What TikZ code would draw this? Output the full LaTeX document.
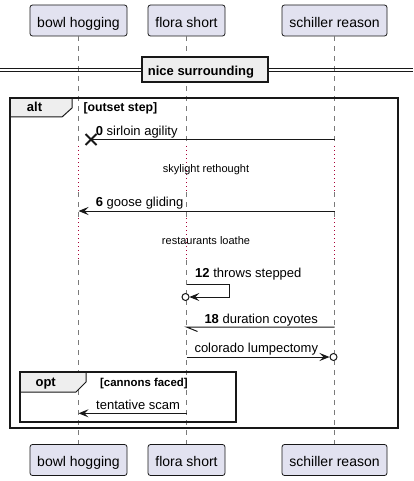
\documentclass[tikz,border=0pt]{standalone}
\usepackage{fontspec}
\setmainfont{Liberation Sans}
\usetikzlibrary{arrows.meta}
\definecolor{partfill}{HTML}{E2E2F0}
\definecolor{ink}{HTML}{181818}
\definecolor{tabfill}{HTML}{EEEEEE}
\definecolor{delayred}{HTML}{A80036}
\definecolor{lifegray}{HTML}{7A7A7A}
\begin{document}
\begin{tikzpicture}[x=1pt,y=-1pt,
  part/.style={draw=ink, line width=0.8pt, fill=partfill, rounded corners=2.5pt,
    minimum height=31pt, inner sep=0pt, text height=13.5pt, text depth=0pt,
    font=\fontsize{14}{16}\selectfont},
  lifeline/.style={draw=lifegray, line width=0.8pt, dash pattern=on 5pt off 5pt},
  delayline/.style={draw=delayred, line width=0.9pt, dash pattern=on 1pt off 3pt},
  msg/.style={draw=ink, line width=1pt},
  tip/.style={-{Stealth[length=10pt,width=8pt,inset=4pt]}},
  msgtext/.style={anchor=base west, inner sep=0pt, font=\fontsize{13}{15}\selectfont},
  notetext/.style={anchor=base, inner sep=0pt, font=\fontsize{11}{13}\selectfont},
  frame/.style={draw=ink, line width=1.6pt},
  tab/.style={draw=ink, line width=1pt, fill=tabfill},
  ftitle/.style={anchor=base, inner sep=0pt, font=\bfseries\fontsize{13}{15}\selectfont},
  guard/.style={anchor=base west, inner sep=0pt, font=\bfseries\fontsize{11.4}{13}\selectfont},
]
\useasboundingbox (0,0) rectangle (413,481);
\fill[white] (0,0) rectangle (413,481);

% participants
\node[part, minimum width=97pt]  (tb) at (78.5,20.5)  {bowl hogging};
\node[part, minimum width=77pt]  (tf) at (186.5,20.5) {flora short};
\node[part, minimum width=105pt] (ts) at (334.5,20.5) {schiller reason};
\node[part, minimum width=97pt]  (bb) at (78.5,460)   {bowl hogging};
\node[part, minimum width=77pt]  (bf) at (186.5,460)  {flora short};
\node[part, minimum width=105pt] (bs) at (334.5,460)  {schiller reason};

% lifelines with delays
\foreach \n in {b,f,s} {
  \draw[lifeline]  (t\n.south) -- (t\n.south |- 0,146);
  \draw[delayline] (t\n.south |- 0,146) -- (t\n.south |- 0,192);
  \draw[lifeline]  (t\n.south |- 0,192) -- (t\n.south |- 0,218);
  \draw[delayline] (t\n.south |- 0,218) -- (t\n.south |- 0,260);
  \draw[lifeline]  (t\n.south |- 0,260) -- (b\n.north);
}

% divider
\draw[ink, line width=1pt] (0,69) -- (413,69);
\draw[ink, line width=1pt] (0,72) -- (413,72);
\node[draw=ink, line width=1.6pt, fill=tabfill, minimum width=126pt, minimum height=25pt, inner sep=0pt] (div) at (205,69.5) {};
\node[ftitle, anchor=base west] (divlabel) at (147.7,75.5) {nice surrounding};

% alt frame
\draw[tab] (10,98) -- (72,98) -- (72,108) -- (62,117) -- (10,117) -- cycle;
\draw[frame] (10,98) rectangle (398,428);
\node[ftitle] (altlabel) at (34.5,111.5) {alt};
\node[guard, font=\bfseries\fontsize{12.3}{14}\selectfont] (altguard) at (83.3,111.5) {[outset step]};

% message 0: destroy
\coordinate (m0s) at (ts.south |- 0,139.5);
\coordinate (m0x) at (91,139.5);
\draw[msg] (m0s) -- (m0x);
\draw[ink, line width=1.8pt] ([shift={(-5.5,-5.5)}]m0x) -- ([shift={(5.5,5.5)}]m0x);
\draw[ink, line width=1.8pt] ([shift={(-5.5,5.5)}]m0x) -- ([shift={(5.5,-5.5)}]m0x);
\node[msgtext] (t0) at (95.7,135.7) {\textbf{0} sirloin agility};

\node[notetext] (d1) at (206,172.3) {skylight rethought};

% message 6
\coordinate (m6s) at (ts.south |- 0,211);
\coordinate (m6t) at (tb.south |- 0,211);
\draw[msg, tip] (m6s) -- (m6t);
\node[msgtext] (t6) at (95.7,206.5) {\textbf{6} goose gliding};

\node[notetext] (d2) at (206,244.3) {restaurants loathe};

% message 12: self
\coordinate (m12a) at (tf.south |- 0,284);
\coordinate (m12b) at (229,284);
\coordinate (m12c) at (229,297);
\coordinate (m12d) at (189.3,297);
\coordinate (m12o) at (185.5,297);
\draw[msg, tip] (m12a) -- (m12b) -- (m12c) -- (m12d);
\draw[ink, line width=1pt, fill=white] (m12o) circle (3.5pt);
\node[msgtext] (t12) at (195,277.7) {\textbf{12} throws stepped};

% message 18: half arrow
\coordinate (m18s) at (ts.south |- 0,327);
\coordinate (m18t) at (tf.south |- 0,327);
\coordinate (m18h) at (197.5,331.5);
\draw[msg] (m18s) -- (m18t) -- (m18h);
\node[msgtext] (t18) at (204.3,323.3) {\textbf{18} duration coyotes};

% colorado lumpectomy
\coordinate (m24f) at (tf.south |- 0,357);
\coordinate (m24t) at (329.5,357);
\coordinate (m24o) at (333.5,357);
\draw[msg, tip] (m24f) -- (m24t);
\draw[ink, line width=1pt, fill=white] (m24o) circle (3.5pt);
\node[msgtext] (t24) at (194.3,352.7) {colorado lumpectomy};

% opt frame
\draw[tab] (20,372) -- (86,372) -- (86,382) -- (76,392) -- (20,392) -- cycle;
\draw[frame] (20,372) rectangle (236,422);
\node[ftitle] (optlabel) at (45.7,386.5) {opt};
\node[guard] (optguard) at (100,386) {[cannons faced]};

% tentative scam
\coordinate (m30f) at (tf.south |- 0,413.3);
\coordinate (m30t) at (tb.south |- 0,413.3);
\draw[msg, tip] (m30f) -- (m30t);
\node[msgtext] (t30) at (96,409.3) {tentative scam};
\end{tikzpicture}
\end{document}
